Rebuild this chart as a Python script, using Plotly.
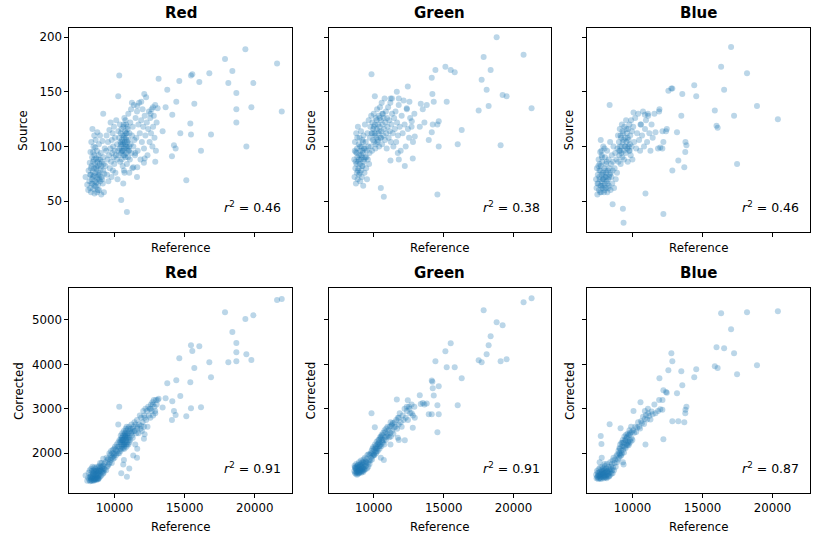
import plotly.graph_objects as go

W, H = 818, 542

channels = ["Red", "Green", "Blue"]
source_r2 = [0.46, 0.38, 0.46]
corrected_r2 = [0.91, 0.91, 0.87]
x_ticks = [10000, 15000, 20000]
source_ticks = [50, 100, 150, 200]
corrected_ticks = [2000, 3000, 4000, 5000]

# (reference, source, corrected) per sample
red_samples = [
    (19333, 189, 5023), (21595, 176, 5450), (21929, 132, 5473), (17881, 180, 5173), (18405, 169, 4730),
    (16762, 167, 4048), (18119, 158, 4048), (19905, 158, 5105), (16048, 159, 4408), (15548, 166, 4303),
    (15452, 165, 4430), (15452, 111, 3013), (18690, 149, 4483), (18690, 134, 4273), (18690, 122, 4070),
    (19405, 100, 4228), (19762, 136, 4100), (16881, 111, 3710), (16167, 96, 3035), (15405, 121, 3598),
    (15691, 139, 3920), (14619, 160, 4138), (13762, 152, 3575), (13143, 162, 3230), (14405, 141, 3643),
    (14119, 129, 3170), (14690, 112, 3290), (14238, 101, 2953), (14357, 98, 2863), (14095, 91, 2750),
    (15119, 69, 2833), (13643, 136, 3238), (13071, 135, 3200), (13429, 114, 3028), (12905, 86, 2900),
    (12095, 85, 2330), (12143, 89, 2430), (10333, 165, 3050), (10262, 146, 2650), (9190, 130, 1880),
    (10476, 51, 1550), (10881, 40, 1470), (12119, 148, 2850), (11905, 141, 2620), (11619, 137, 2560),
    (11238, 140, 2480), (12571, 130, 3000), (12738, 136, 3100), (11476, 94, 2200), (11619, 81, 2100),
    (11333, 81, 1950), (11600, 72, 1900), (10620, 66, 1750), (10667, 78, 1850), (11050, 76, 1660),
    (7930, 72, 1500), (8050, 65, 1380), (8120, 60, 1450), (8150, 78, 1560), (8200, 68, 1400),
    (8230, 85, 1620), (8260, 62, 1370), (8280, 95, 1480), (8300, 74, 1520), (8320, 58, 1390),
    (8340, 104, 1650), (8360, 82, 1420), (8380, 70, 1600), (8400, 90, 1380), (8420, 116, 1700),
    (8430, 66, 1450), (8450, 77, 1560), (8470, 86, 1400), (8490, 61, 1480), (8500, 100, 1620),
    (8520, 73, 1380), (8540, 80, 1540), (8560, 92, 1440), (8570, 57, 1400), (8590, 68, 1580),
    (8610, 84, 1460), (8630, 76, 1650), (8650, 106, 1520), (8660, 63, 1420), (8680, 89, 1600),
    (8700, 72, 1480), (8720, 79, 1400), (8740, 96, 1700), (8750, 58, 1440), (8770, 113, 1560),
    (8790, 70, 1620), (8800, 82, 1480), (8820, 65, 1420), (8840, 88, 1680), (8860, 76, 1500),
    (8880, 102, 1600), (8900, 60, 1450), (8920, 74, 1720), (8940, 84, 1540), (8960, 110, 1650),
    (8980, 68, 1480), (9000, 79, 1600), (9020, 94, 1700), (9050, 56, 1500), (9080, 72, 1780),
    (9100, 86, 1580), (9130, 105, 1660), (9160, 66, 1540), (9190, 78, 1720), (9210, 90, 1600),
    (9240, 58, 1660), (9270, 75, 1760), (9300, 98, 1640), (8310, 80, 1440), (8440, 72, 1500),
    (8530, 88, 1600), (8580, 64, 1420), (8690, 81, 1540), (8710, 67, 1600), (8830, 74, 1560),
    (8850, 92, 1420), (8910, 70, 1600), (8970, 88, 1780), (8470, 95, 1540), (8620, 99, 1420),
    (8260, 74, 1460), (8780, 86, 1520), (9060, 82, 1620), (8360, 66, 1480), (8550, 110, 1680),
    (8810, 60, 1440), (9110, 70, 1700), (9220, 84, 1560),
    (9350, 82, 1800), (9400, 96, 1620), (9430, 110, 1900), (9460, 74, 1700), (9500, 88, 1850),
    (9530, 104, 1720), (9560, 68, 1880), (9600, 92, 1760), (9630, 115, 2000), (9660, 80, 1800),
    (9700, 98, 1960), (9720, 122, 1850), (9750, 86, 2050), (9780, 72, 1900), (9800, 106, 1780),
    (9830, 94, 2000), (9860, 112, 1920), (9880, 78, 2080), (9900, 100, 1880), (9930, 90, 2000),
    (9960, 118, 1950), (9980, 84, 2100), (10000, 96, 1900), (10030, 108, 2150), (10060, 76, 2000),
    (10090, 92, 2080), (10120, 124, 1960), (10150, 88, 2200), (10180, 102, 2050), (10210, 70, 2150),
    (10240, 96, 2000), (10270, 114, 2250),
    (10300, 92, 2150), (10330, 108, 2000), (10350, 98, 2300), (10380, 120, 2100), (10400, 86, 2250),
    (10420, 104, 2050), (10440, 112, 2400), (10460, 94, 2200), (10480, 100, 2100), (10500, 116, 2350),
    (10510, 88, 2250), (10530, 106, 2150), (10550, 96, 2450), (10570, 110, 2200), (10580, 82, 2300),
    (10600, 102, 2100), (10620, 118, 2400), (10640, 92, 2250), (10660, 108, 2500), (10680, 98, 2200),
    (10700, 126, 2320), (10710, 76, 2100), (10730, 104, 2450), (10750, 114, 2250), (10770, 90, 2380),
    (10790, 100, 2550), (10800, 108, 2200), (10820, 120, 2400), (10840, 94, 2300), (10860, 112, 2600),
    (10880, 84, 2350), (10900, 104, 2200), (10920, 98, 2450), (10940, 116, 2350), (10960, 90, 2550),
    (10980, 130, 2300), (11000, 106, 2450), (11030, 96, 2600), (11060, 112, 2350), (11090, 88, 2500),
    (11120, 122, 2300), (11150, 102, 2550), (11180, 134, 2450), (11210, 94, 2650), (11240, 110, 2400),
    (11270, 80, 2550), (11300, 118, 2350), (11340, 100, 2600), (11380, 138, 2500), (11420, 106, 2700),
    (11460, 92, 2500), (11500, 126, 2650), (10560, 104, 2350), (10620, 96, 2300), (10690, 110, 2150),
    (10760, 102, 2350), (10830, 112, 2500), (10870, 100, 2250), (10910, 118, 2400), (10990, 96, 2200),
    (10450, 102, 2300), (10720, 92, 2400), (10650, 120, 2200), (10520, 96, 2300), (10850, 106, 2150),
    (10780, 124, 2450), (11050, 100, 2250),
    (11550, 108, 2450), (11600, 132, 2750), (11650, 96, 2600), (11700, 120, 2450), (11750, 140, 2650),
    (11800, 112, 2850), (11850, 88, 2550), (11900, 124, 2800), (11950, 104, 2500), (12000, 134, 2700),
    (12050, 118, 2950), (12100, 98, 2600), (12150, 128, 2800), (12200, 110, 3000), (12250, 145, 2750),
    (12300, 122, 2950), (12350, 92, 2600), (12400, 116, 3050), (12450, 132, 2850), (12500, 104, 3000),
    (12550, 126, 2800), (12600, 112, 3100), (12650, 134, 2950), (12700, 100, 3150), (12750, 118, 2850),
    (12800, 128, 3200), (12850, 108, 3050), (12900, 138, 2950), (12950, 96, 3200), (13000, 122, 3100),
]

green_samples = [
    (20714, 184, 5398), (21286, 135, 5488), (17857, 182, 5218), (18786, 200, 4948), (19214, 147, 4880),
    (18357, 170, 4633), (18214, 137, 4430), (18071, 152, 4228), (17500, 133, 4093), (17714, 161, 4048),
    (19071, 101, 4070), (19500, 146, 4115), (15500, 170, 4475), (15119, 173, 4295), (14405, 170, 4070),
    (15214, 141, 3935), (15786, 168, 3935), (16286, 115, 3688), (14143, 163, 3640), (14190, 148, 3610),
    (14214, 120, 3463), (14643, 123, 3508), (16000, 102, 3080), (13286, 118, 3305), (13357, 139, 3110),
    (13500, 134, 3130), (13619, 122, 3100), (13786, 138, 3120), (14548, 120, 3080), (14286, 141, 3300),
    (13929, 106, 2878), (14143, 113, 2878), (14643, 100, 2878), (14548, 56, 2473), (12429, 155, 3193),
    (11643, 150, 3208), (9833, 166, 2900), (10071, 146, 2585), (12929, 109, 2800), (12714, 123, 2900),
    (12786, 89, 2575), (12214, 82, 2293), (12548, 141, 3000), (12357, 135, 3050), (11714, 94, 2350),
    (11786, 88, 2300), (11190, 87, 2200), (11200, 144, 2700), (11300, 144, 2650), (11786, 144, 2800),
    (10500, 62, 1900), (10714, 54, 1850),
    (8600, 88, 1600), (8620, 72, 1720), (8650, 104, 1560), (8680, 80, 1680), (8700, 95, 1540),
    (8720, 66, 1640), (8740, 112, 1760), (8760, 84, 1580), (8780, 76, 1700), (8800, 98, 1520),
    (8820, 90, 1660), (8840, 70, 1600), (8860, 118, 1740), (8880, 86, 1540), (8900, 80, 1680),
    (8920, 102, 1620), (8940, 74, 1800), (8960, 92, 1560), (8980, 108, 1700), (9000, 84, 1640),
    (9020, 68, 1580), (9040, 96, 1760), (9060, 88, 1620), (9080, 114, 1840), (9100, 78, 1560),
    (9120, 100, 1720), (9140, 72, 1660), (9160, 90, 1800), (9180, 106, 1600), (9200, 82, 1740),
    (9220, 94, 1680), (9240, 64, 1580), (9260, 110, 1860), (9280, 86, 1640), (9300, 98, 1780),
    (9330, 76, 1700), (9360, 120, 1900), (9390, 90, 1640), (9420, 104, 1820), (9450, 80, 1720),
    (9480, 96, 1880), (9510, 70, 1660), (9540, 112, 1960), (9570, 88, 1780), (9600, 100, 1700),
    (9630, 124, 1980), (9660, 84, 1840), (9690, 94, 1760), (8700, 86, 1660), (8780, 94, 1560),
    (8850, 78, 1720), (8930, 88, 1560), (9010, 100, 1740), (9090, 92, 1700), (9150, 82, 1600),
    (9230, 104, 1800), (9310, 88, 1620), (9400, 98, 1760), (8640, 96, 1680), (8990, 76, 1620),
    (9190, 96, 1660), (8810, 108, 1600), (9460, 90, 1800),
    (9720, 108, 1960), (9750, 118, 1840), (9780, 100, 2000), (9810, 128, 1900), (9840, 112, 2060),
    (9870, 96, 1860), (9900, 122, 2100), (9930, 106, 1940), (9960, 116, 2140), (9990, 130, 1980),
    (10020, 104, 2080), (10050, 112, 1960), (10080, 120, 2200), (10110, 98, 2040), (10140, 126, 2160),
    (10170, 108, 2000), (10200, 116, 2260), (10230, 134, 2100), (10260, 104, 2200), (10290, 120, 2060),
    (10320, 112, 2300), (10350, 128, 2160), (10380, 100, 2240), (10410, 118, 2100), (10440, 136, 2360),
    (10470, 108, 2200), (10500, 124, 2340), (10530, 114, 2160), (10560, 140, 2420), (10590, 102, 2260),
    (10620, 120, 2400), (10650, 130, 2240), (10680, 110, 2460), (10710, 126, 2300), (10740, 116, 2200),
    (10770, 144, 2520), (10800, 106, 2360), (10830, 122, 2480), (10860, 132, 2300), (10890, 112, 2560),
    (10920, 98, 2380), (10950, 126, 2440), (10980, 118, 2600), (11020, 136, 2400), (11060, 108, 2520),
    (11100, 124, 2360), (11140, 114, 2600), (11180, 140, 2460), (11220, 104, 2380), (11260, 120, 2620),
    (11300, 130, 2500), (11350, 112, 2680), (11400, 100, 2440), (11450, 126, 2580), (11500, 116, 2700),
    (10000, 118, 1960), (10100, 110, 2120), (10200, 124, 2040), (10300, 106, 2220), (10420, 126, 2160),
    (10520, 108, 2380), (10600, 130, 2300), (9900, 112, 2000), (10150, 102, 2100), (10380, 114, 2300),
    (11550, 132, 2600), (11600, 104, 2750), (11660, 122, 2550), (11720, 110, 2800), (11780, 138, 2650),
    (11850, 118, 2900), (11920, 96, 2700), (11990, 128, 2600), (12060, 112, 2850), (12130, 142, 2750),
    (12200, 120, 3000), (12280, 100, 2800), (12360, 134, 2950), (12440, 116, 2750), (12520, 108, 3050),
    (12600, 126, 2900), (12700, 118, 3100), (12800, 104, 2850), (12900, 130, 3050),
]

blue_samples = [
    (17039, 191, 4790), (16328, 173, 5150), (18177, 167, 5173), (16541, 152, 4363), (18888, 137, 3980),
    (17252, 128, 4250), (20381, 125, 5195), (15878, 133, 3960), (16000, 119, 4385), (16080, 117, 3920),
    (17466, 84, 3778), (14408, 156, 3710), (14550, 146, 3890), (13555, 148, 3530), (13484, 128, 3845),
    (12773, 153, 4250), (12844, 153, 4070), (12560, 151, 3868), (13176, 113, 3350), (13780, 104, 2980),
    (13850, 101, 3050), (13768, 95, 2900), (13271, 87, 2720), (13697, 81, 2700), (12844, 78, 2720),
    (12204, 38, 2315), (11920, 134, 3688), (11900, 132, 3200), (11560, 130, 3100), (11100, 130, 3000),
    (10880, 129, 2950), (10071, 131, 2952), (8365, 138, 2653), (10924, 57, 2200), (9313, 43, 1800),
    (9360, 30, 1750), (8578, 47, 1550), (12450, 116, 3360), (12390, 114, 3380), (12204, 104, 3418),
    (12130, 98, 2980), (11820, 98, 2950), (11980, 99, 2990), (11640, 113, 2900), (12140, 114, 3200),
    (10569, 120, 3148), (9147, 110, 2563), (7730, 106, 2390), (7780, 96, 2210), (7650, 84, 1800),
    (7800, 92, 1900), (8000, 98, 1760),
    (7400, 70, 1520), (7430, 62, 1440), (7460, 80, 1600), (7490, 56, 1460), (7520, 74, 1560),
    (7550, 66, 1420), (7580, 88, 1640), (7600, 60, 1500), (7630, 78, 1440), (7660, 70, 1580),
    (7690, 95, 1680), (7710, 64, 1460), (7740, 82, 1540), (7760, 58, 1420), (7790, 74, 1620),
    (7810, 68, 1480), (7840, 86, 1700), (7860, 62, 1540), (7880, 76, 1460), (7910, 100, 1660),
    (7930, 70, 1560), (7960, 58, 1440), (7980, 80, 1620), (8000, 66, 1500), (8030, 90, 1720),
    (8050, 72, 1460), (8080, 62, 1580), (8100, 84, 1500), (8130, 76, 1660), (8150, 68, 1440),
    (8180, 96, 1760), (8200, 58, 1520), (8230, 78, 1600), (8260, 70, 1480), (8290, 88, 1700),
    (8310, 64, 1560), (8340, 80, 1640), (8370, 74, 1500), (8400, 104, 1800), (8430, 60, 1580),
    (8460, 84, 1700), (8490, 72, 1540), (8520, 92, 1760), (8550, 66, 1620), (8580, 78, 1840),
    (8610, 86, 1680), (8640, 100, 1900), (8680, 62, 1620), (8720, 80, 1780), (8760, 94, 1860),
    (8800, 70, 1700), (8850, 88, 1940), (8890, 76, 1800), (7500, 66, 1480), (7620, 72, 1560),
    (7700, 78, 1440), (7780, 64, 1540), (7870, 70, 1600), (7950, 74, 1480), (8020, 60, 1560),
    (8120, 72, 1460), (8210, 66, 1580), (8330, 72, 1480), (7560, 82, 1500), (7820, 90, 1580),
    (8070, 78, 1640), (8270, 62, 1540), (7680, 58, 1500), (8440, 76, 1640), (7900, 64, 1520),
    (8160, 86, 1600),
    (8920, 98, 1980), (8960, 110, 1860), (9000, 86, 2060), (9030, 104, 1900), (9060, 92, 2120),
    (9090, 116, 1980), (9120, 96, 2200), (9150, 84, 1940), (9180, 108, 2060), (9210, 100, 2240),
    (9240, 120, 2000), (9270, 90, 2160), (9300, 104, 2300), (9330, 112, 2080), (9360, 96, 2240),
    (9390, 88, 2020), (9420, 118, 2380), (9450, 100, 2140), (9480, 108, 2300), (9510, 94, 2120),
    (9540, 124, 2420), (9570, 104, 2200), (9600, 112, 2360), (9630, 98, 2180), (9660, 86, 2440),
    (9690, 116, 2260), (9720, 106, 2400), (9750, 96, 2220), (9780, 120, 2520), (9810, 102, 2300),
    (9840, 110, 2460), (9870, 92, 2260), (9900, 124, 2600), (9930, 100, 2340), (9960, 114, 2480),
    (9990, 88, 2300), (9100, 100, 2100), (9200, 94, 1960), (9350, 106, 2160), (9500, 100, 2280),
    (9650, 108, 2240), (9800, 96, 2420), (9280, 114, 2240), (9560, 116, 2340), (9720, 100, 2180),
    (9050, 96, 2000),
    (10050, 118, 2520), (10120, 104, 2460), (10190, 126, 2600), (10260, 98, 2480), (10330, 112, 2580),
    (10400, 130, 2700), (10470, 106, 2600), (10540, 96, 2560), (10610, 120, 2720), (10680, 110, 2680),
    (10750, 132, 2820), (10820, 100, 2660), (10890, 116, 2780), (10960, 124, 2860), (11040, 104, 2760),
    (11120, 128, 2900), (11200, 112, 2840), (11280, 96, 2760), (11360, 120, 2940), (11440, 108, 2880),
]

samples_by_channel = [red_samples, green_samples, blue_samples]

FONT = "DejaVu Sans"
TICK_SIZE = 11.8
col_x = [(69.3, 291.7), (328.7, 550.5), (587.3, 809.5)]
row_y = [(28.3, 231.7), (288.3, 493.3)]
x_range = [6770, 22640]
y_ranges = [[21.9, 208.2], [1100, 5713]]
y_ticks = [source_ticks, corrected_ticks]
y_titles = ["Source", "Corrected"]
r2_rows = [source_r2, corrected_r2]

fig = go.Figure()
annotations = []
layout = {}

for r in range(2):
    for c in range(3):
        idx = r * 3 + c + 1
        samples = samples_by_channel[c]
        xs = [s[0] for s in samples]
        ys = [s[1 + r] for s in samples]
        sfx = "" if idx == 1 else str(idx)
        fig.add_trace(go.Scatter(
            x=xs, y=ys, mode="markers",
            marker=dict(size=6, color="#1f77b4", opacity=0.3, line=dict(width=0)),
            xaxis="x" + sfx, yaxis="y" + sfx, showlegend=False, hoverinfo="skip"))
        x0, x1 = col_x[c]
        y0, y1 = row_y[r]
        common = dict(showline=True, mirror=True, linecolor="black", linewidth=1,
                      ticks="outside", ticklen=4, tickwidth=1, tickcolor="black",
                      showgrid=False, zeroline=False,
                      tickfont=dict(family=FONT, size=TICK_SIZE, color="black"))
        layout["xaxis" + sfx] = dict(
            domain=[x0 / W, x1 / W], range=x_range, tickmode="array",
            tickvals=x_ticks, ticktext=[str(t) for t in x_ticks],
            showticklabels=(r == 1), anchor="y" + sfx, **common)
        layout["yaxis" + sfx] = dict(
            domain=[1 - y1 / H, 1 - y0 / H], range=y_ranges[r], tickmode="array",
            tickvals=y_ticks[r], ticktext=[str(t) for t in y_ticks[r]],
            showticklabels=(c == 0), anchor="x" + sfx, **common)

        cx = (x0 + x1) / 2
        annotations.append(dict(
            x=cx / W, y=1 - (y0 - 4) / H, xref="paper", yref="paper",
            text="<b>" + channels[c] + "</b>", showarrow=False,
            xanchor="center", yanchor="bottom",
            font=dict(family=FONT, size=15, color="black")))
        xl_y = 248.3 if r == 0 else 526.7
        annotations.append(dict(
            x=cx / W, y=1 - xl_y / H, xref="paper", yref="paper",
            text="Reference", showarrow=False, xanchor="center", yanchor="middle",
            font=dict(family=FONT, size=TICK_SIZE, color="black")))
        if c == 0:
            yl_x = 22.7 if r == 0 else 18.3
        else:
            yl_x = x0 - 18
        annotations.append(dict(
            x=yl_x / W, y=1 - ((y0 + y1) / 2) / H, xref="paper", yref="paper",
            text=y_titles[r], showarrow=False, textangle=-90,
            xanchor="center", yanchor="middle",
            font=dict(family=FONT, size=TICK_SIZE, color="black")))
        annotations.append(dict(
            x=(x1 - 9) / W, y=1 - (y1 - 25) / H, xref="paper", yref="paper",
            text="<i>r</i><sup>2</sup> = %.2f" % r2_rows[r][c], showarrow=False,
            xanchor="right", yanchor="middle",
            font=dict(family=FONT, size=12.5, color="black")))

fig.update_layout(
    width=W, height=H, margin=dict(l=0, r=0, t=0, b=0),
    paper_bgcolor="white", plot_bgcolor="white",
    annotations=annotations, **layout)

fig.write_html("out.html")
